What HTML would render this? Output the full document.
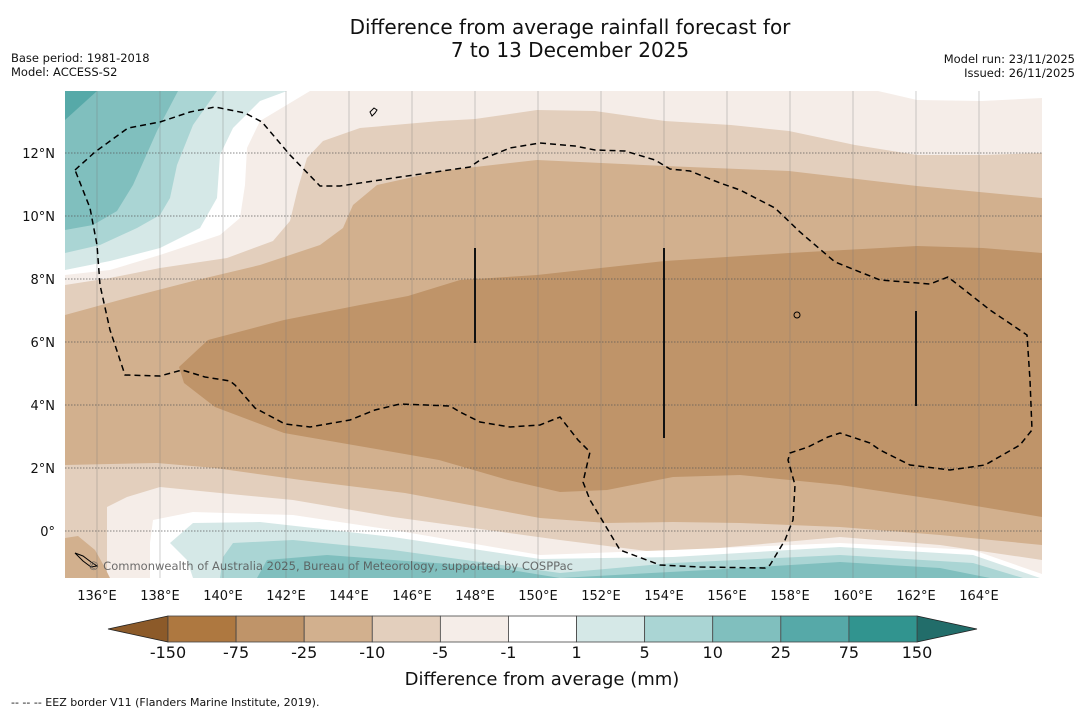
<!DOCTYPE html>
<html><head><meta charset="utf-8">
<style>
html,body{margin:0;padding:0;background:#fff;}
body{width:1085px;height:713px;overflow:hidden;font-family:"Liberation Sans","DejaVu Sans",sans-serif;}
svg text{font-family:"DejaVu Sans","Liberation Sans",sans-serif;}
</style></head>
<body>
<svg id="chart" width="1085" height="713" viewBox="0 0 1085 713" xmlns="http://www.w3.org/2000/svg">
  <text x="570" y="34" font-size="20" text-anchor="middle" fill="#111">Difference from average rainfall forecast for</text>
  <text x="570" y="57" font-size="20" text-anchor="middle" fill="#111">7 to 13 December 2025</text>
  <text x="11" y="62" font-size="11.5" fill="#111">Base period: 1981-2018</text>
  <text x="11" y="76" font-size="11.5" fill="#111">Model: ACCESS-S2</text>
  <text x="1075" y="63" font-size="11.5" text-anchor="end" fill="#111">Model run: 23/11/2025</text>
  <text x="1075" y="77" font-size="11.5" text-anchor="end" fill="#111">Issued: 26/11/2025</text>

  <defs><clipPath id="mapclip"><rect x="65" y="91" width="977" height="487"/></clipPath></defs>
  <g id="map" clip-path="url(#mapclip)">
    <rect x="65" y="91" width="977" height="487" fill="#f5ede8"/>
    <polygon fill="#ffffff" points="65,275 110,270 160,255 220,235 240,218 245,185 247,148 260,121 310,91 65,91"/>
    <polygon fill="#ffffff" points="878,91 917,100 982,101 1042,98 1042,91"/>
    <polygon fill="#d5e8e7" points="65,270 110,261 160,248 200,228 217,198 220,155 233,128 260,101 287,91 65,91"/>
    <polygon fill="#aad5d4" points="65,253 100,245 137,228 160,215 170,198 177,165 193,125 217,91 65,91"/>
    <polygon fill="#80bfbe" points="65,230 93,225 117,211 133,185 157,131 178,91 65,91"/>
    <polygon fill="#56a9a8" points="65,120 97,91 65,91"/>
    <polygon fill="#e3cfbd" points="65,285 110,278 160,268 227,258 273,241 290,221 298,188 307,158 323,141 360,128 440,121 475,119 537,110 595,111 665,121 731,125 789,131 855,145 917,155 983,155 1042,153 1042,560 940,545 840,537 663,553 560,540 393,517 293,500 220,493 160,487 127,497 107,507 107,578 65,578"/>
    <polygon fill="#d2b08e" points="65,315 127,298 193,281 260,265 320,245 343,228 353,205 377,185 440,171 537,160 665,166 789,171 917,186 1042,198 1042,545 940,535 840,527 740,523 673,522 607,523 540,518 405,493 301,480 215,468 157,463 65,465"/>
    <polygon fill="#d2b08e" points="65,538 78,536 95,550 104,566 110,578 65,578"/>
    <polygon fill="#bf9469" points="1042,253 983,248 917,246 789,253 665,261 537,275 460,280 408,296 360,305 284,320 208,340 179,367 184,383 215,407 284,433 353,445 439,460 508,480 560,492 607,490 673,477 740,475 840,485 940,500 1042,517"/>
    <polygon fill="#ffffff" points="150,578 150,543 153,520 193,512 293,515 393,530 540,555 673,550 840,543 973,550 1042,574 1042,578"/>
    <polygon fill="#d5e8e7" points="193,578 187,560 170,543 193,523 260,522 393,537 540,559 673,557 840,547 973,555 1040,578"/>
    <polygon fill="#aad5d4" points="220,578 223,557 233,543 293,540 393,550 560,573 673,563 840,555 973,563 1023,578"/>
    <polygon fill="#80bfbe" points="257,578 267,560 327,555 393,560 493,567 560,578 707,570 840,562 940,568 990,578"/>
    <g id="grid"></g>
    <polyline fill="none" stroke="#000" stroke-width="1.5" stroke-dasharray="6,4" points="75,170 95,152 128,128 160,122 190,112 215,107 245,113 262,122 290,155 320,186 340,186 400,177 470,167 480,160 510,148 540,143 575,146 595,150 625,151 655,160 670,169 690,171 720,183 740,190 775,208 800,232 835,262 880,280 930,284 948,277 990,310 1027,335 1030,380 1032,430 1020,445 985,465 950,470 910,465 880,450 870,443 840,433 828,437 808,447 790,453 788,460 795,485 793,520 785,540 770,565 765,568 700,567 660,565 620,550 590,500 583,482 590,452 578,440 560,417 540,425 510,427 480,422 460,412 450,406 400,404 375,410 350,420 310,427 285,424 255,408 235,385 230,381 205,377 182,370 160,376 125,375 110,330 100,285 97,245 90,208 75,170"/>
    <line x1="475" y1="248" x2="475" y2="343" stroke="#111" stroke-width="2"/>
    <line x1="664" y1="248" x2="664" y2="438" stroke="#111" stroke-width="2"/>
    <line x1="916" y1="311" x2="916" y2="406" stroke="#111" stroke-width="2"/>
    <path d="M370,112 l4,-4 l3,2 l-2,3 l-3,3 z" fill="none" stroke="#000" stroke-width="1"/>
    <ellipse cx="797" cy="315" rx="3" ry="3" fill="none" stroke="#000" stroke-width="1"/>
    <path d="M75,553 l8,3 l8,6 l6,4 l-6,1 l-8,-6 z" fill="none" stroke="#000" stroke-width="1"/>
    <text x="88" y="570" font-size="11.5" fill="#555" fill-opacity="0.85" textLength="485">© Commonwealth of Australia 2025, Bureau of Meteorology, supported by COSPPac</text>
  </g>
  <g id="ticks"></g>

  <g id="colorbar"></g>
  <text x="542" y="685" font-size="18" text-anchor="middle" fill="#111">Difference from average (mm)</text>
  <text x="11" y="706" font-size="11" fill="#111">--  --  -- EEZ border V11 (Flanders Marine Institute, 2019).</text>
</svg>
<script>
const lonTicks = [136,138,140,142,144,146,148,150,152,154,156,158,160,162,164];
const latTicks = [0,2,4,6,8,10,12];
const cbLabels = ["-150","-75","-25","-10","-5","-1","1","5","10","25","75","150"];
const cbColors = ["#ae7840","#bf9469","#d2b08e","#e3cfbd","#f5ede8","#ffffff","#d5e8e7","#aad5d4","#80bfbe","#56a9a8","#31948f"];
const NS = "http://www.w3.org/2000/svg";
function xLon(lon){ return 97 + (lon - 136) * 31.5; }
function yLat(lat){ return 531 - lat * 31.5; }
function mk(tag, attrs, parent){ const e=document.createElementNS(NS,tag); for(const k in attrs) e.setAttribute(k,attrs[k]); parent.appendChild(e); return e; }
const grid=document.getElementById('grid'), ticks=document.getElementById('ticks');
lonTicks.forEach(lon=>{
  const x=xLon(lon);
  const l=mk('line',{x1:x,y1:91,x2:x,y2:578,stroke:'#777','stroke-opacity':0.45,'stroke-width':0.8},grid);
  
  
  const t=mk('text',{x:x,y:600,'font-size':13,'text-anchor':'middle',fill:'#111'},ticks);
  t.textContent=lon+'°E';
  
  
});
latTicks.forEach(lat=>{
  const y=yLat(lat);
  const l=mk('line',{x1:65,y1:y,x2:1042,y2:y,stroke:'#555','stroke-opacity':0.7,'stroke-width':0.9,'stroke-dasharray':'1.5,1.5'},grid);
  
  
  const t=mk('text',{x:55,y:y+5,'font-size':13,'text-anchor':'end',fill:'#111'},ticks);
  t.textContent= lat===0 ? '0°' : lat+'°N';
  
  
});
const cb=document.getElementById('colorbar');
const cx0=168, cx1=917, cy0=616, cy1=642, n=cbColors.length, w=(cx1-cx0)/n;
const lt=mk('polygon',{points:`108,629 ${cx0},${cy0} ${cx0},${cy1}`,fill:'#8c5a29',stroke:'#222','stroke-width':0.8},cb);


const rt=mk('polygon',{points:`977,629 ${cx1},${cy0} ${cx1},${cy1}`,fill:'#226d6a',stroke:'#222','stroke-width':0.8},cb);


cbColors.forEach((c,i)=>{
  const r=mk('rect',{x:cx0+i*w,y:cy0,width:w,height:cy1-cy0,fill:c,stroke:'#444','stroke-width':0.8},cb);
  
  
});
cbLabels.forEach((s,i)=>{
  const t=mk('text',{x:cx0+i*w,y:658,'font-size':16,'text-anchor':'middle',fill:'#111'},cb);
  t.textContent=s;
  
  
});
</script>
</body></html>
